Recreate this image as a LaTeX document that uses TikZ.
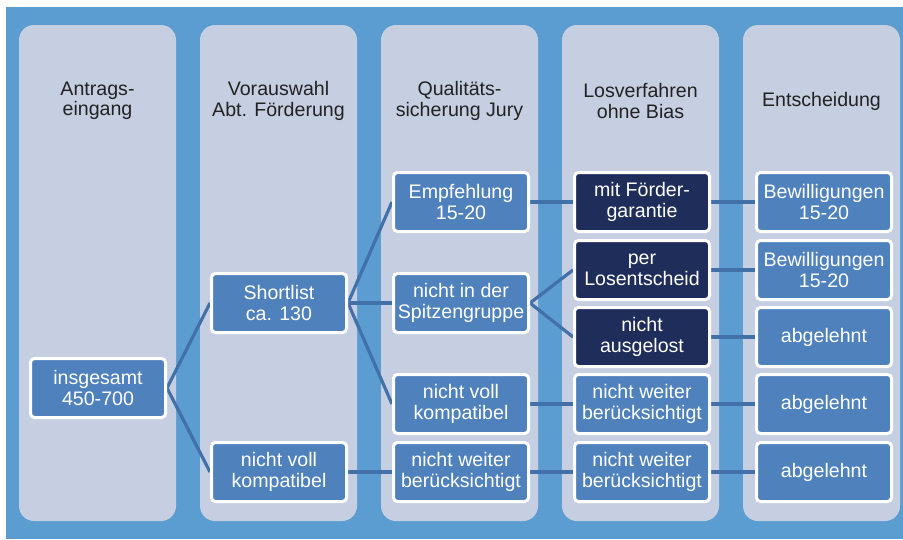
\documentclass[tikz,border=0pt]{standalone}
\usepackage{fontspec}
\setmainfont{Liberation Sans}
\pgfdeclarelayer{background}
\pgfsetlayers{background,main}
\definecolor{bgblue}{HTML}{5B9DD0}
\definecolor{colfill}{HTML}{C6CFE1}
\definecolor{boxblue}{HTML}{4F81BD}
\definecolor{boxdark}{HTML}{1F2D5B}
\definecolor{linkblue}{HTML}{4270A9}
\definecolor{headtext}{HTML}{222222}
\tikzset{
  column/.style={fill=colfill, draw=none, rounded corners=15pt},
  header/.style={align=center, text=headtext, font=\fontsize{19.6}{20.5}\selectfont, inner sep=0pt},
  stagebox/.style={rectangle, draw=white, line width=3pt, fill=boxblue, rounded corners=4pt,
    minimum width=135pt, minimum height=59pt, inner sep=0pt, align=center, text=white,
    font=\fontsize{19.6}{20.5}\selectfont},
  darkbox/.style={stagebox, fill=boxdark},
  link/.style={draw=linkblue, line width=3.2pt}
}
\begin{document}
\begin{tikzpicture}[x=1pt,y=-1pt]
\useasboundingbox (0,0) rectangle (903,539);
\begin{pgfonlayer}{background}
\fill[white] (0,0) rectangle (903,539);
\fill[bgblue] (6,7) rectangle (903,539);
\foreach \cx in {19,200,381,562,743}{
  \path[column] (\cx,25) rectangle ++(157,496);
}
\end{pgfonlayer}
\node[header] (h1) at (97.5,101) {Antrags-\\eingang};
\node[header] (h2) at (278.5,101) {Vorauswahl\\Abt. Förderung};
\node[header] (h3) at (459.5,101) {Qualitäts-\\sicherung Jury};
\node[header] (h4) at (640.5,101) {Losverfahren\\ohne Bias};
\node[header] (h5) at (821.5,101) {Entscheidung};

\node[stagebox] (a1) at (98,388) {insgesamt\\450-700};
\node[stagebox] (b1) at (279,303) {Shortlist\\ca. 130};
\node[stagebox] (b2) at (279,472) {nicht voll\\kompatibel};
\node[stagebox] (c1) at (461,202) {Empfehlung\\15-20};
\node[stagebox] (c2) at (461,303) {nicht in der\\Spitzengruppe};
\node[stagebox] (c3) at (461,404) {nicht voll\\kompatibel};
\node[stagebox] (c4) at (461,472) {nicht weiter\\berücksichtigt};
\node[darkbox] (d1) at (642,202) {mit Förder-\\garantie};
\node[darkbox] (d2) at (642,270) {per\\Losentscheid};
\node[darkbox] (d3) at (642,337) {nicht\\ausgelost};
\node[stagebox] (d4) at (642,404) {nicht weiter\\berücksichtigt};
\node[stagebox] (d5) at (642,472) {nicht weiter\\berücksichtigt};
\node[stagebox] (e1) at (824,202) {Bewilligungen\\15-20};
\node[stagebox] (e2) at (824,270) {Bewilligungen\\15-20};
\node[stagebox] (e3) at (824,337) {abgelehnt};
\node[stagebox] (e4) at (824,404) {abgelehnt};
\node[stagebox] (e5) at (824,472) {abgelehnt};

\begin{pgfonlayer}{background}
\path[link] (a1.east) -- (b1.west);
\path[link] (a1.east) -- (b2.west);
\path[link] (b1.east) -- (c1.west);
\path[link] (b1.east) -- (c2.west);
\path[link] (b1.east) -- (c3.west);
\path[link] (b2.east) -- (c4.west);
\path[link] (c1.east) -- (d1.west);
\path[link] (c2.east) -- (d2.west);
\path[link] (c2.east) -- (d3.west);
\path[link] (c3.east) -- (d4.west);
\path[link] (c4.east) -- (d5.west);
\path[link] (d1.east) -- (e1.west);
\path[link] (d2.east) -- (e2.west);
\path[link] (d3.east) -- (e3.west);
\path[link] (d4.east) -- (e4.west);
\path[link] (d5.east) -- (e5.west);
\end{pgfonlayer}
\end{tikzpicture}
\end{document}
